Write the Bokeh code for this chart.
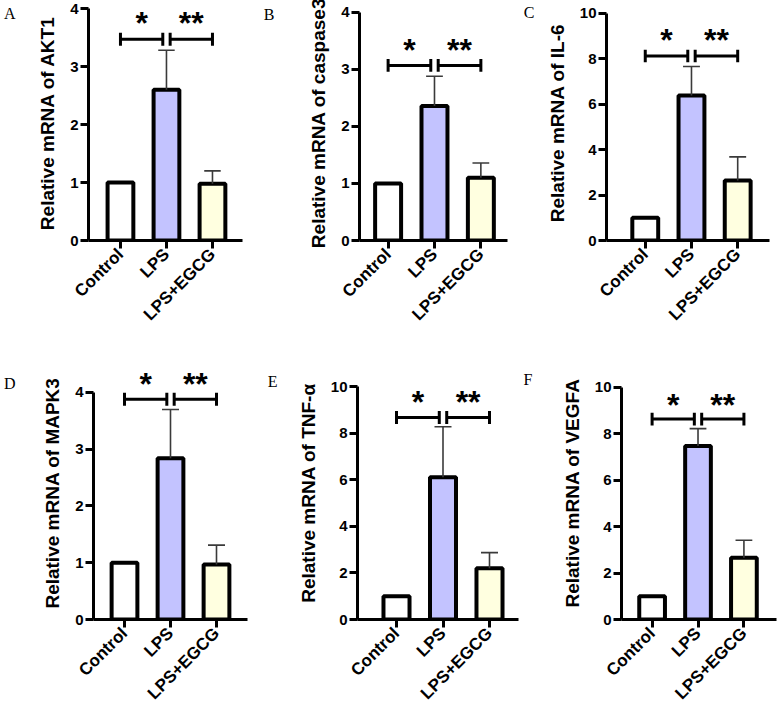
import math
from bokeh.plotting import figure
from bokeh.layouts import column, row
from bokeh.models import FixedTicker, Range1d, LinearAxis
from bokeh.core.properties import value
from bokeh.embed import file_html
from bokeh.resources import INLINE

# ---------------- data ----------------
groups = ["Control", "LPS", "LPS+EGCG"]
genes = ["AKT1", "caspase3", "IL-6", "MAPK3", "TNF-α", "VEGFA"]
panel_letters = ["A", "B", "C", "D", "E", "F"]

akt1_mean = [1.00, 2.60, 0.98]
akt1_sd = [0.00, 0.68, 0.22]
caspase3_mean = [1.00, 2.36, 1.10]
caspase3_sd = [0.00, 0.52, 0.26]
il6_mean = [1.00, 6.38, 2.64]
il6_sd = [0.00, 1.28, 1.04]
mapk3_mean = [1.00, 2.84, 0.97]
mapk3_sd = [0.00, 0.86, 0.34]
tnfa_mean = [1.00, 6.10, 2.20]
tnfa_sd = [0.00, 2.17, 0.67]
vegfa_mean = [1.00, 7.47, 2.66]
vegfa_sd = [0.00, 0.75, 0.75]

means = [akt1_mean, caspase3_mean, il6_mean, mapk3_mean, tnfa_mean, vegfa_mean]
sds = [akt1_sd, caspase3_sd, il6_sd, mapk3_sd, tnfa_sd, vegfa_sd]

y_max = [4, 4, 10, 4, 10, 10]
y_step = [1, 1, 2, 1, 2, 2]
sig_y = [3.47, 3.07, 8.12, 3.88, 8.67, 8.63]
star_y = [3.79, 3.38, 8.93, 4.19, 9.42, 9.34]
sig_labels = ["*", "**"]

bar_colors = ["#FFFFFF", "#C3C3FF", "#FFFFE0"]

# ---------------- layout (pixel positions in the window) ----------------
col_x = [0, 260, 520]
col_w = [260, 260, 257]
row_y = [0, 345]
row_h = [345, 371]
frame_tops = [5, 5, 4, 366, 366, 366]
# frame_left, tick0, tick2, frame_right, zero_line, axis_top
geom = [
    (83, 116, 211, 242, 240, 8),
    (357, 386, 480, 507, 245, 12),
    (605, 644, 737, 769, 246, 12),
    (93, 124, 216, 247, 620, 392),
    (357, 396, 489, 518, 619, 386),
    (619, 650, 743, 776, 622, 387),
]
# panel letter: right edge x, vertical centre y
letter_pos = [(15, 13), (277, 14), (538, 11), (20, 383), (282, 381), (535, 379)]

FONT = "Liberation Sans"
TICK_PX = 15
TITLE_PX = 19


def make_panel(i):
    r, c = divmod(i, 3)
    left, t0, t2, right, zero, top = geom[i]
    s = (t2 - t0) / 2.0
    x_start = (left - t0) / s
    x_end = (right - t0) / s
    ppu = (zero - top) / y_max[i]
    y_end = (zero - frame_tops[i]) / ppu

    p = figure(width=col_w[c], height=row_h[r],
               x_range=Range1d(x_start, x_end), y_range=Range1d(0, y_end),
               output_backend="svg", toolbar_location=None,
               min_border_left=left - col_x[c],
               min_border_right=col_x[c] + col_w[c] - right,
               min_border_top=frame_tops[i] - row_y[r],
               min_border_bottom=row_y[r] + row_h[r] - zero)
    p.outline_line_color = None
    p.grid.visible = False
    p.background_fill_color = "white"

    xs = list(range(len(groups)))
    m = means[i]
    e = sds[i]

    p.vbar(x=xs, top=m, bottom=0, width=0.56, fill_color=bar_colors,
           line_color="black", line_width=4)

    ex = [x for x, v in zip(xs, e) if v > 0]
    ey0 = [mm for mm, v in zip(m, e) if v > 0]
    ey1 = [mm + v for mm, v in zip(m, e) if v > 0]
    cap = 8.5 / s
    p.segment(x0=ex, y0=ey0, x1=ex, y1=ey1, line_color="#3a3a3a", line_width=1.6)
    p.segment(x0=[x - cap for x in ex], y0=ey1, x1=[x + cap for x in ex], y1=ey1,
              line_color="#3a3a3a", line_width=1.6)

    # significance brackets
    g = 0.08
    bx0 = [0, 1 + g]
    bx1 = [1 - g, 2]
    by = sig_y[i]
    ch = 6.5 / ppu
    p.segment(x0=bx0, y0=[by, by], x1=bx1, y1=[by, by], line_color="black", line_width=3)
    ends = bx0 + bx1
    p.segment(x0=ends, y0=[by - ch] * 4, x1=ends, y1=[by + ch] * 4,
              line_color="black", line_width=3)
    p.text(x=[(a + b) / 2 for a, b in zip(bx0, bx1)], y=[star_y[i]] * 2, text=sig_labels,
           text_font=value(FONT), text_font_style="bold", text_font_size="32px",
           text_align="center", text_baseline="middle", y_offset=2, text_color="black")

    # axes
    p.yaxis.bounds = (0, y_max[i])
    yt = list(range(0, y_max[i] + 1, y_step[i]))
    p.yaxis.ticker = FixedTicker(ticks=yt)
    p.xaxis.ticker = FixedTicker(ticks=xs)
    p.xaxis.major_label_overrides = {k: groups[k] for k in xs}
    p.xaxis.major_label_orientation = math.pi / 4
    for ax in (p.xaxis, p.yaxis):
        ax.axis_line_width = 3
        ax.axis_line_color = "black"
        ax.major_tick_line_width = 3
        ax.major_tick_line_color = "black"
        ax.major_tick_out = 8
        ax.major_tick_in = 0
        ax.minor_tick_line_color = None
        ax.major_label_text_font = FONT
        ax.major_label_text_font_style = "bold"
        ax.major_label_text_color = "black"
    p.yaxis.major_label_text_font_size = f"{TICK_PX}px"
    p.xaxis.major_label_text_font_size = "17px"
    p.yaxis.major_label_standoff = 2
    p.xaxis.major_label_standoff = 3
    p.yaxis.axis_label = "Relative mRNA of " + genes[i]
    p.yaxis.axis_label_text_font = FONT
    p.yaxis.axis_label_text_font_style = "bold"
    p.yaxis.axis_label_text_font_size = f"{TITLE_PX}px"
    p.yaxis.axis_label_text_color = "black"
    p.yaxis.axis_label_standoff = 9

    # panel letter, drawn as a tick-free secondary axis outside the primary one
    ndig = max(len(str(t)) for t in yt)
    est_primary = 8 + 2 + 0.556 * TICK_PX * ndig + 9 + 1.16 * TITLE_PX
    lr, lc = letter_pos[i]
    ly = round((zero - lc) / ppu, 4)
    lax = LinearAxis(ticker=FixedTicker(ticks=[ly]),
                     major_label_overrides={ly: panel_letters[i]},
                     axis_line_color=None, major_tick_line_color=None,
                     minor_tick_line_color=None, major_tick_out=0, major_tick_in=0,
                     major_label_standoff=int(round(left - est_primary - lr)),
                     major_label_text_font="Liberation Serif",
                     major_label_text_font_size="16px",
                     major_label_text_color="black")
    p.add_layout(lax, "left")
    return p


panels = [make_panel(i) for i in range(6)]
layout = column(row(*panels[:3]), row(*panels[3:]))

open("out.html", "w").write(file_html(layout, INLINE))
